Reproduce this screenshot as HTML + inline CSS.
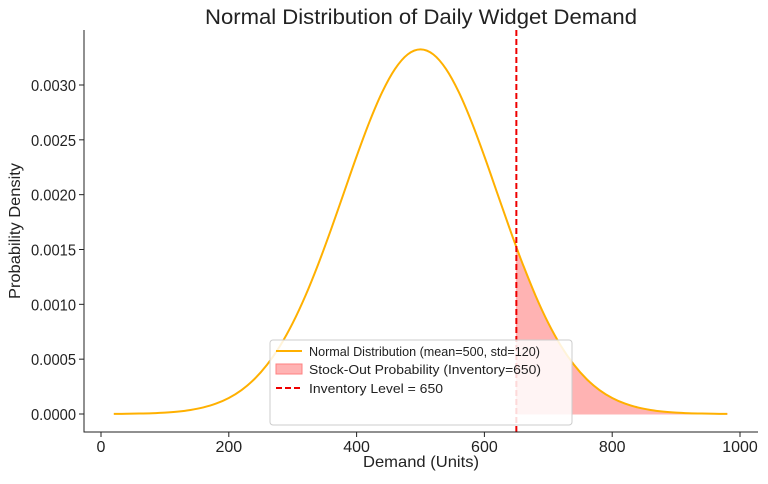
<!DOCTYPE html>
<html><head><meta charset="utf-8"><style>
body{margin:0;background:#fff;font-family:"Liberation Sans","DejaVu Sans",sans-serif}
svg text{font-family:"Liberation Sans","DejaVu Sans",sans-serif;fill:#222}
</style></head><body>
<svg id="chart" width="768" height="479" viewBox="0 0 768 479" xmlns="http://www.w3.org/2000/svg">
<text x="421" y="24" text-anchor="middle" font-size="21" textLength="432" lengthAdjust="spacingAndGlyphs" fill="#333">Normal Distribution of Daily Widget Demand</text>
<g id="plot"></g>
<text x="421" y="467" text-anchor="middle" font-size="16" textLength="116" lengthAdjust="spacingAndGlyphs">Demand (Units)</text>
<text transform="translate(20,231) rotate(-90)" text-anchor="middle" font-size="16" textLength="136" lengthAdjust="spacingAndGlyphs">Probability Density</text>
<g>
<rect x="270" y="340" width="302" height="85" rx="3" fill="#fff" fill-opacity="0.85" stroke="#ccc"/>
<line x1="276" y1="351" x2="302" y2="351" stroke="#ffb000" stroke-width="2"/>
<text x="309" y="356" font-size="13" textLength="231" lengthAdjust="spacingAndGlyphs">Normal Distribution (mean=500, std=120)</text>
<rect x="276" y="364" width="26" height="10" fill="#ffb3b3" stroke="#ff8080"/>
<text x="309" y="374" font-size="13" textLength="232" lengthAdjust="spacingAndGlyphs">Stock-Out Probability (Inventory=650)</text>
<line x1="276" y1="388" x2="302" y2="388" stroke="#e00" stroke-width="2" stroke-dasharray="6,3"/>
<text x="309" y="393" font-size="13" textLength="134" lengthAdjust="spacingAndGlyphs">Inventory Level = 650</text>
</g>
</svg>
<script>
const demandValues=[20,40,60,80,100,120,140,160,180,200,220,240,260,280,300,320,340,360,380,400,420,440,460,480,500,520,540,560,580,600,620,640,650,660,680,700,720,740,760,780,800,820,840,860,880,900,920,940,960,980];
const densityValues=[1.11e-6,2.14e-6,4.0e-6,7.27e-6,1.285e-5,2.21e-5,3.69e-5,6.0e-5,9.5e-5,1.461e-4,2.184e-4,3.18e-4,4.50e-4,6.19e-4,8.29e-4,1.0795e-3,1.367e-3,1.683e-3,2.016e-3,2.349e-3,2.662e-3,2.934e-3,3.145e-3,3.279e-3,3.3245e-3,3.279e-3,3.145e-3,2.934e-3,2.662e-3,2.349e-3,2.016e-3,1.683e-3,1.522e-3,1.367e-3,1.0795e-3,8.29e-4,6.19e-4,4.50e-4,3.18e-4,2.184e-4,1.461e-4,9.5e-5,6.0e-5,3.69e-5,2.21e-5,1.285e-5,7.27e-6,4.0e-6,2.14e-6,1.11e-6];
const inventoryLevel=[650];
const xTicks=[0,200,400,600,800,1000];
const yTicks=[0,0.0005,0.001,0.0015,0.002,0.0025,0.003];
const yTickLabels=["0.0000","0.0005","0.0010","0.0015","0.0020","0.0025","0.0030"];
const L=84,R=758,T=30,B=432;
const xs=v=>101+v*0.639;
const ys=v=>414-v*109670;
const NS="http://www.w3.org/2000/svg";
const g=document.getElementById('plot');
function mk(t,a){const e=document.createElementNS(NS,t);for(const k in a)e.setAttribute(k,a[k]);g.appendChild(e);return e;}
function smooth(p){let d=`M${p[0][0]},${p[0][1]}`;for(let i=0;i<p.length-1;i++){const p0=p[i-1]||p[i],p1=p[i],p2=p[i+1],p3=p[i+2]||p2;
d+=`C${p1[0]+(p2[0]-p0[0])/6},${p1[1]+(p2[1]-p0[1])/6} ${p2[0]-(p3[0]-p1[0])/6},${p2[1]-(p3[1]-p1[1])/6} ${p2[0]},${p2[1]}`;}return d;}
const inv=inventoryLevel[0];
const pts=demandValues.map((d,i)=>[xs(d),ys(densityValues[i])]);
const tail=pts.filter((p,i)=>demandValues[i]>=inv);
const f=mk('path',{d:smooth(tail)+`L${tail[tail.length-1][0]},${ys(0)}L${xs(inv)},${ys(0)}Z`,fill:'#ffb3b3',stroke:'#ffb3b3'});


const c=mk('path',{d:smooth(pts),fill:'none',stroke:'#ffb000','stroke-width':2});


const vl=mk('line',{x1:xs(inv),x2:xs(inv),y1:T,y2:B,stroke:'#e00','stroke-width':2,'stroke-dasharray':'6,3'});


const ax=mk('path',{d:`M${L},${T}V${B}H${R}`,fill:'none',stroke:'#222','stroke-width':1});


xTicks.forEach(v=>{mk('line',{x1:xs(v),x2:xs(v),y1:B,y2:B+5,stroke:'#222'});
const t=mk('text',{x:xs(v),y:B+20,'text-anchor':'middle','font-size':16});t.textContent=v;

});
yTicks.forEach((v,i)=>{mk('line',{x1:L-5,x2:L,y1:ys(v),y2:ys(v),stroke:'#222'});
const t=mk('text',{x:L-8,y:ys(v)+6,'text-anchor':'end','font-size':16,textLength:45,lengthAdjust:'spacingAndGlyphs'});t.textContent=yTickLabels[i];

});
</script>
</body></html>
